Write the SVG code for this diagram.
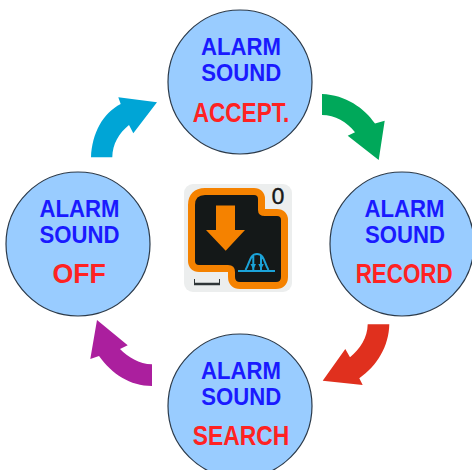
<svg xmlns="http://www.w3.org/2000/svg" width="472" height="470" viewBox="0 0 472 470">
<style>
.c{fill:#99ccff;stroke:#2b3a4a;stroke-width:1.2}
text{font-family:"Liberation Sans",Arial,sans-serif;font-weight:700;text-anchor:middle}
.b{fill:#1a1aff;font-size:23px}
.r{fill:#ff2222;font-size:27.500px}
</style>
<g id="connectors">
<path fill="#00a85a" d="M322 94C346 95 364 108 375 123.5L384.7 120.7L378.7 160L347.7 135.7L355 132.3C347 122 335 115 322 115Z"/>
<path fill="#e0301e" d="M389.3 324.3C389 346 377 366 359.3 378.3L362.7 385L322.7 380.7L345.3 349L350 357.3C360 349 367.5 338 367.7 324.3Z"/>
<path fill="#ab1f9e" d="M152 386C130 386 112 374 99 356L90.3 359L97 320L127.7 345.3L120 349C128 357 139 364 152 364.3Z"/>
<path fill="#00a5d6" d="M91 157.3C92 133 103 113 120.7 104L118.3 97.3L157 102.3L133.3 133.3L129 125C119 133 112.5 144 112.3 157.3Z"/>
</g>
<g id="node-accept"><circle class="c" cx="240" cy="82" r="72"/><text class="b" x="241" y="55" textLength="80" lengthAdjust="spacingAndGlyphs">ALARM</text><text class="b" x="241.300" y="81" textLength="80" lengthAdjust="spacingAndGlyphs">SOUND</text><text class="r" x="241" y="121.700" textLength="96.500" lengthAdjust="spacingAndGlyphs">ACCEPT.</text></g>
<g id="node-record"><circle class="c" cx="402" cy="244" r="72"/><text class="b" x="404.500" y="217" textLength="80" lengthAdjust="spacingAndGlyphs">ALARM</text><text class="b" x="405" y="243" textLength="80" lengthAdjust="spacingAndGlyphs">SOUND</text><text class="r" x="404.200" y="283" textLength="97" lengthAdjust="spacingAndGlyphs">RECORD</text></g>
<g id="node-search"><circle class="c" cx="240" cy="406" r="72"/><text class="b" x="241" y="379" textLength="80" lengthAdjust="spacingAndGlyphs">ALARM</text><text class="b" x="241.300" y="405" textLength="80" lengthAdjust="spacingAndGlyphs">SOUND</text><text class="r" x="241" y="445" textLength="96.500" lengthAdjust="spacingAndGlyphs">SEARCH</text></g>
<g id="node-off"><circle class="c" cx="78" cy="244" r="72"/><text class="b" x="79.500" y="217" textLength="80" lengthAdjust="spacingAndGlyphs">ALARM</text><text class="b" x="79.500" y="243" textLength="80" lengthAdjust="spacingAndGlyphs">SOUND</text><text class="r" x="79.200" y="283" textLength="53.500" lengthAdjust="spacingAndGlyphs">OFF</text></g>
<g id="icon">
<rect x="184" y="184" width="108" height="108" rx="9" fill="#eceeee"/>
<path fill="#141818" stroke="#f58200" stroke-width="14" stroke-linejoin="round" paint-order="stroke" d="M205 195H254Q258 195 258 199V210Q258 216 265 216H277Q281 216 281 220V277Q281 282 276 282H240Q235 282 235 277V272Q235 265 228 265H199Q195 265 195 261V205Q195 195 205 195Z"/>
<path fill="#f58200" d="M216 205.500H235V230H245L225.700 250.700L206 230H216Z"/>
<path fill="none" stroke="#1ba3d8" stroke-width="2" d="M238 271H275M245.500 270C250 263 249.500 254 257 254C264.500 254 264 263 268.500 270M253.300 255V270M261 255V270"/>
<path fill="#1ba3d8" d="M250.500 264H256L253.300 269.500ZM258.300 264H263.800L261 269.500Z"/>
<path fill="none" stroke="#2f3537" d="M194.500 279V284M219.500 279V284"/>
<path fill="none" stroke="#2f3537" stroke-width="2.500" d="M194 284H220"/>
<text x="278" y="204" font-size="22" textLength="14" lengthAdjust="spacingAndGlyphs" stroke="#1a1a1a" stroke-width=".3" style="font-family:'DejaVu Sans',sans-serif;font-weight:400;fill:#1a1a1a">0</text>
</g>
</svg>
